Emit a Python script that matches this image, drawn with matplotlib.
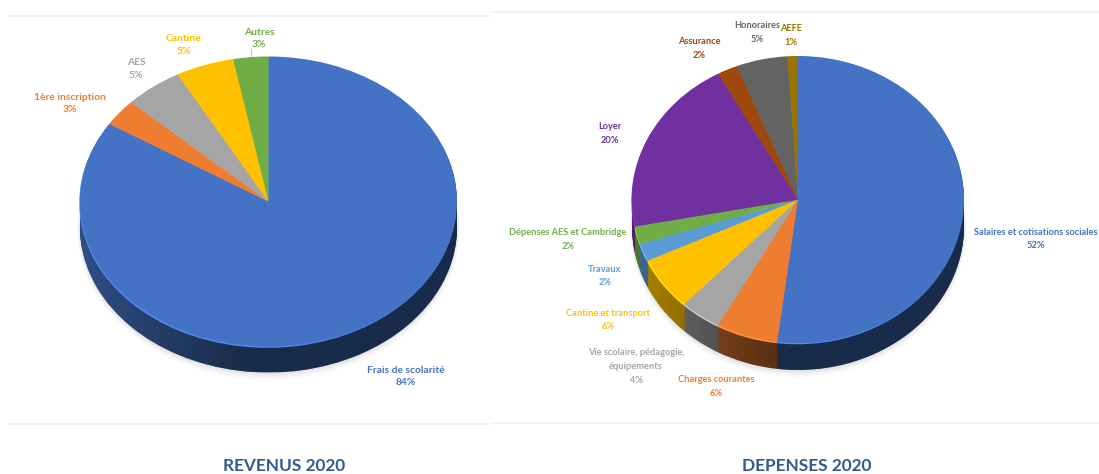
import numpy as np
import matplotlib
matplotlib.use("Agg")
import matplotlib.pyplot as plt
from matplotlib.colors import to_rgb
from matplotlib.patches import Ellipse, Polygon

rev_labels = ["Frais de scolarité", "1ère inscription", "AES", "Cantine", "Autres"]
rev_values = [84, 3, 5, 5, 3]
rev_colors = ["#4472C4", "#ED7D31", "#A5A5A5", "#FFC000", "#70AD47"]

dep_labels = ["Salaires et cotisations sociales", "Charges courantes",
              "Vie scolaire, pédagogie,\néquipements", "Cantine et transport",
              "Travaux", "Dépenses AES et Cambridge", "Loyer", "Assurance",
              "Honoraires", "AEFE"]
dep_values = [52, 6, 4, 6, 2, 2, 20, 2, 5, 1]
dep_colors = ["#4472C4", "#ED7D31", "#A5A5A5", "#FFC000", "#5B9BD5",
              "#70AD47", "#7030A0", "#9E480E", "#636363", "#997300"]

W, H = 1099, 474
plt.rcParams["font.family"] = ["Lato", "DejaVu Sans"]
plt.rcParams["font.weight"] = "bold"
fig = plt.figure(figsize=(W / 100, H / 100), dpi=100, facecolor="white")

# full-figure overlay in pixel coordinates, for texts and rules
ov = fig.add_axes([0, 0, 1, 1], zorder=5)
ov.set_xlim(0, W)
ov.set_ylim(H, 0)
ov.axis("off")
ov.patch.set_alpha(0)


def shade(c, f):
    return tuple(min(1, v * f) for v in to_rgb(c))


def pie3d(values, colors, cx, cy, rx, ry, depth):
    extra = depth + 22
    ax = fig.add_axes([(cx - rx - 14) / W, 1 - (cy + ry + extra) / H,
                       (2 * rx + 28) / W, (2 * ry + extra + 4) / H], zorder=1)
    dy = depth / ry
    # soft shadow below the disc
    for g, a in zip([0.045, 0.03, 0.018, 0.008], [0.035, 0.04, 0.05, 0.06]):
        ax.add_patch(Ellipse((0.0, -dy - 0.005), 2 * (1 + g * 0.35), 2 * (1 + g),
                             fc="#707070", ec="none", alpha=a, zorder=1))
    n = int(depth)
    for i in range(n, 0, -1):
        ax.pie(values, colors=[shade(c, 0.68) for c in colors], startangle=90,
               counterclock=False, radius=1, center=(0, -dy * i / n),
               wedgeprops=dict(lw=0.4, zorder=2, edgecolor="none"))
    ax.pie(values, colors=[shade(c, 1.22) for c in colors], startangle=90,
           counterclock=False, radius=1, center=(-0.004, -0.009),
           wedgeprops=dict(lw=0, zorder=4))
    ax.pie(values, colors=colors, startangle=90, counterclock=False, radius=1,
           center=(0, 0), wedgeprops=dict(lw=0, zorder=5))
    ax.set_aspect("auto")
    xl = (-1 - 14 / rx, 1 + 14 / rx)
    yl = (-1 - extra / ry, 1 + 4 / ry)
    # darkening towards the right of the side wall
    grad = np.zeros((1, 256, 4))
    grad[..., 3] = np.clip((np.linspace(-1, 1, 256) + 1.0) / 0.85, 0, 1) * 0.44
    t = np.radians(np.linspace(180, 360, 200))
    wall = np.vstack([np.c_[np.cos(t), np.sin(t) - dy], [[1, 0], [-1, 0]]])
    clip = Polygon(wall, closed=True, transform=ax.transData, fc="none", ec="none")
    ax.add_patch(clip)
    im = ax.imshow(grad, extent=(-1, 1, -1 - dy, 0), aspect="auto", zorder=3)
    im.set_clip_path(clip)
    ax.set_xlim(*xl)
    ax.set_ylim(*yl)
    ax.set_aspect("auto")
    ax.axis("off")
    return ax


pie3d(rev_values, rev_colors, 268.5, 201.5, 188.5, 145, 26)
pie3d(dep_values, dep_colors, 798, 199.5, 166, 143.5, 27)

rev_pos = [(406, 376.5), (70, 103.5), (136, 69), (184, 45), (259, 38.5)]
dep_pos = [(1036, 239), (716, 386.5), (636, 366.5), (608, 320), (605, 276),
           (568, 239.5), (610, 133.5), (699, 48.5), (757, 32.5), (791, 35.5)]


def labels(names, vals, cols, pos, fs, ls):
    for nm, v, c, (x, y) in zip(names, vals, cols, pos):
        ov.text(x, y, f"{nm}\n{v}%", color=c, fontsize=fs, ha="center", va="center",
                linespacing=ls)


labels(rev_labels, rev_values, rev_colors, rev_pos, 7.4, 1.49)
labels(dep_labels, dep_values, dep_colors, dep_pos, 6.65, 1.65)

# leader line of "Autres"
ov.plot([251, 251], [49, 57], color="#b0b0b0", lw=0.6)

# light rules
for x0, x1, y in [(8, 490, 16), (8, 490, 424), (493, W, 12), (493, W, 423)]:
    ov.plot([x0, x1], [y, y], color="#f0f0f0", lw=1.2)

for txt, x in [("REVENUS 2020", 284), ("DEPENSES 2020", 807)]:
    ov.text(x, 466, txt, color="#2F5B8F", fontsize=12.4, ha="center", va="center")

fig.savefig("out.png", dpi=100, facecolor="white")
